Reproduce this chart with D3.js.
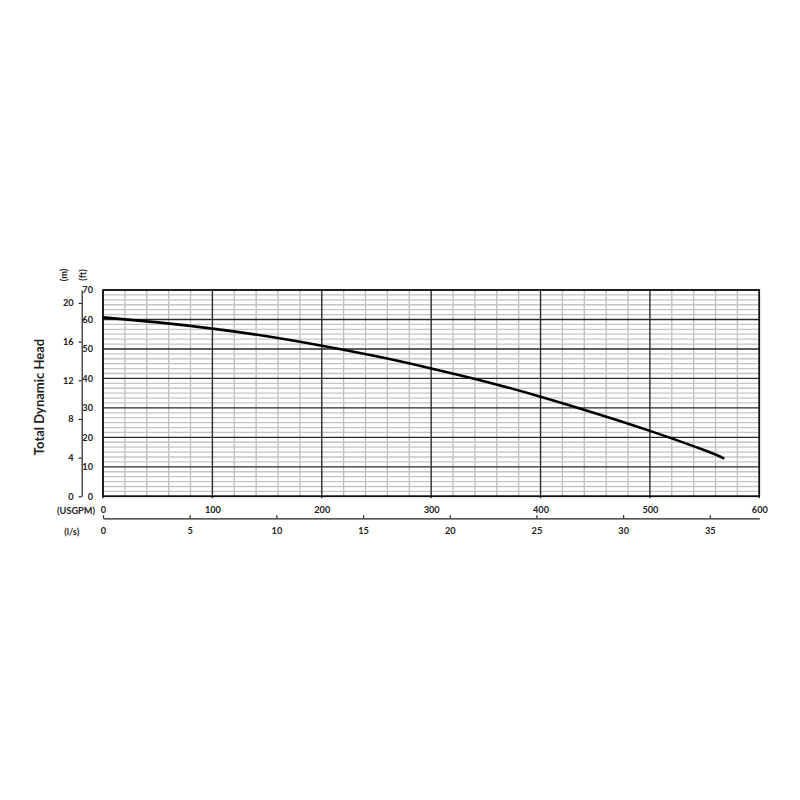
<!DOCTYPE html>
<html lang="en">
<head>
    <meta charset="UTF-8">
    <title>Pump curve</title>
    <script src="https://d3js.org/d3.v7.min.js"></script>
    <style>
        body, html {
            margin: 0;
            background: white;
        }
        svg text {
            font-family: Lato, "Open Sans", sans-serif;
            font-weight: bold;
            fill: #222;
        }
        .axis text {
            font-size: 9.2px;
        }
    </style>
</head>
<body>
    <script>
        'use strict'

        // curve: flow (USGPM) vs head (ft)
        const flowUsgpm = [0, 50, 100, 150, 200, 250, 300, 350, 400, 450, 500, 550, 568]
        const headFt = [60.7, 59.0, 56.9, 54.3, 51.1, 47.5, 43.4, 38.9, 33.8, 28.2, 22.2, 15.6, 12.8]

        const usgpmTicks = [0, 100, 200, 300, 400, 500, 600]
        const lpsTicks = [0, 5, 10, 15, 20, 25, 30, 35]
        const ftTicks = [0, 10, 20, 30, 40, 50, 60, 70]
        const mTicks = [0, 4, 8, 12, 16, 20]

        const FT_PER_M = 3.28084
        const USGPM_PER_LPS = 15.8503

        const w = 800
        const h = 800
        const plot = {left: 103, right: 759.3, top: 290, bottom: 496.3}

        const svg = d3.select('body')
            .append('svg')
            .attr('width', w)
            .attr('height', h)

        const x = d3.scaleLinear().domain([0, 600]).range([plot.left, plot.right])
        const xLps = d3.scaleLinear().domain([0, 600 / USGPM_PER_LPS]).range([plot.left, plot.right])
        const y = d3.scaleLinear().domain([0, 70]).range([plot.bottom, plot.top])
        const yM = d3.scaleLinear().domain([0, 70 / FT_PER_M]).range([plot.bottom, plot.top])

        //grid: minor lines first
        const minorX = d3.range(0, 601, 20).filter(d => d % 100 !== 0)
        const minorY = d3.range(0, 70.01, 10 / 6).filter((d, i) => i % 6 !== 0)

        const grid = svg.append('g')

        grid.selectAll('.minor-x')
            .data(minorX)
            .enter()
            .append('line')
            .attr('x1', d => x(d))
            .attr('x2', d => x(d))
            .attr('y1', plot.top)
            .attr('y2', plot.bottom)
            .attr('stroke', '#bdbdbd')
            .attr('stroke-width', 1.3)

        grid.selectAll('.minor-y')
            .data(minorY)
            .enter()
            .append('line')
            .attr('x1', plot.left)
            .attr('x2', plot.right)
            .attr('y1', d => y(d))
            .attr('y2', d => y(d))
            .attr('stroke', '#c4c4c4')
            .attr('stroke-width', 1.3)

        grid.selectAll('.major-x')
            .data(usgpmTicks)
            .enter()
            .append('line')
            .attr('x1', d => x(d))
            .attr('x2', d => x(d))
            .attr('y1', plot.top)
            .attr('y2', plot.bottom + 2)
            .attr('stroke', '#2a2a2a')
            .attr('stroke-width', 1.4)

        grid.selectAll('.major-y')
            .data(ftTicks)
            .enter()
            .append('line')
            .attr('x1', plot.left)
            .attr('x2', plot.right)
            .attr('y1', d => y(d))
            .attr('y2', d => y(d))
            .attr('stroke', '#2a2a2a')
            .attr('stroke-width', 1.4)

        svg.append('rect')
            .attr('x', plot.left)
            .attr('y', plot.top)
            .attr('width', plot.right - plot.left)
            .attr('height', plot.bottom - plot.top)
            .attr('fill', 'none')
            .attr('stroke', '#111')
            .attr('stroke-width', 1.6)

        //pump curve
        const line = d3.line()
            .x((d, i) => x(flowUsgpm[i]))
            .y(d => y(d))
            .curve(d3.curveNatural)

        svg.append('path')
            .datum(headFt)
            .attr('d', line)
            .attr('fill', 'none')
            .attr('stroke', '#000')
            .attr('stroke-width', 2.6)

        //axes
        const ftAxis = d3.axisLeft(y).tickValues(ftTicks).tickSize(0).tickPadding(10)
        svg.append('g')
            .attr('class', 'axis')
            .attr('transform', `translate(${plot.left}, 0)`)
            .call(ftAxis)
            .call(g => g.select('.domain').remove())

        const mAxis = d3.axisLeft(yM).tickValues(mTicks).tickSize(3).tickSizeOuter(0).tickPadding(5)
        svg.append('g')
            .attr('class', 'axis')
            .attr('transform', 'translate(81.7, 0)')
            .call(mAxis)
            .call(g => g.selectAll('path, line').attr('stroke', '#222').attr('stroke-width', 1.2))

        const usgpmAxis = d3.axisBottom(x).tickValues(usgpmTicks).tickSize(0).tickPadding(10)
        svg.append('g')
            .attr('class', 'axis')
            .attr('transform', `translate(0, ${plot.bottom})`)
            .call(usgpmAxis)
            .call(g => g.select('.domain').remove())

        const lpsAxis = d3.axisBottom(xLps).tickValues(lpsTicks).tickSize(-3).tickSizeOuter(0).tickPadding(9)
        svg.append('g')
            .attr('class', 'axis')
            .attr('transform', 'translate(0, 518.3)')
            .call(lpsAxis)
            .call(g => g.selectAll('path, line').attr('stroke', '#222').attr('stroke-width', 1.2))

        //labels
        svg.append('text')
            .text('(USGPM)')
            .attr('x', 95)
            .attr('y', 513.5)
            .attr('text-anchor', 'end')
            .style('font-size', '9.2px')

        svg.append('text')
            .text('(l/s)')
            .attr('x', 71.7)
            .attr('y', 535)
            .attr('text-anchor', 'middle')
            .style('font-size', '9.2px')

        svg.append('text')
            .text('(m)')
            .attr('transform', 'translate(66.7, 275) rotate(-90)')
            .attr('text-anchor', 'middle')
            .style('font-size', '9.2px')

        svg.append('text')
            .text('(ft)')
            .attr('transform', 'translate(85.5, 275) rotate(-90)')
            .attr('text-anchor', 'middle')
            .style('font-size', '9.2px')

        svg.append('text')
            .text('Total Dynamic Head')
            .attr('transform', 'translate(43.5, 397) rotate(-90)')
            .attr('text-anchor', 'middle')
            .style('font-size', '13px')
    </script>
</body>
</html>
